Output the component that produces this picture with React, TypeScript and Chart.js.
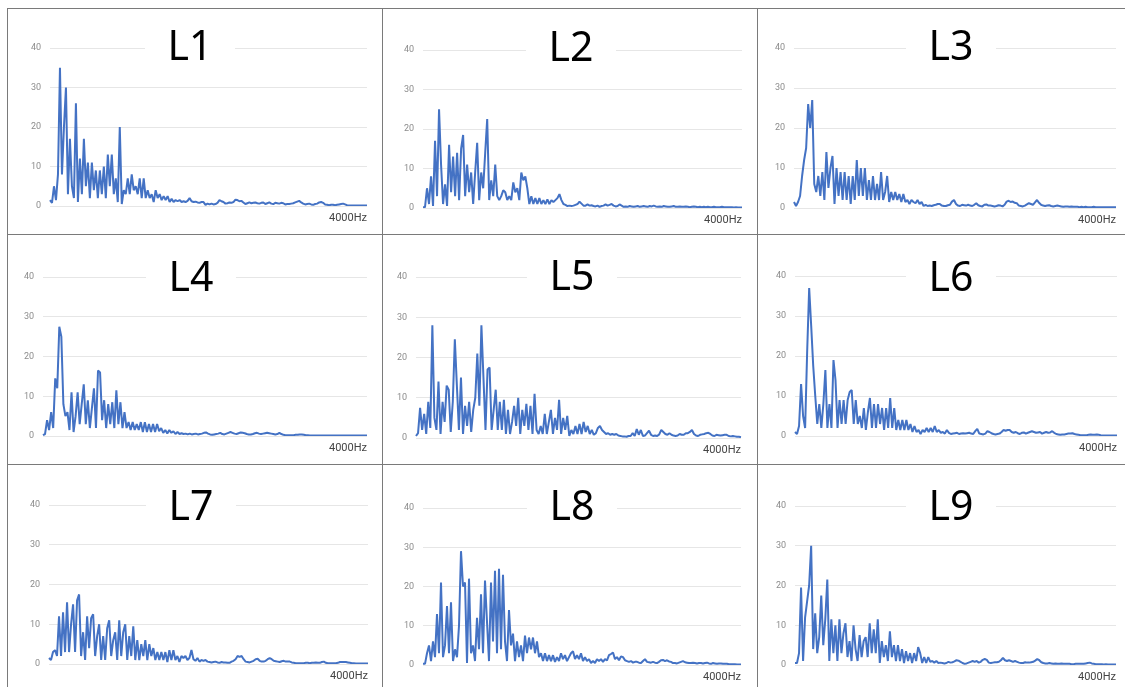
import React, { useEffect, useRef } from "react";
import { Chart, registerables } from "chart.js";

Chart.register(...registerables);

// ---------------- data ----------------
const panelNames = ["L1", "L2", "L3", "L4", "L5", "L6", "L7", "L8", "L9"];
const xAxisCaption = "4000Hz";
const yTickValues = [0, 10, 20, 30, 40];

const L1 = [
  1.5, 0.8, 5, 1.5, 8, 35, 8, 20, 30, 3,
  17, 5, 2, 26, 1, 12, 3, 17, 5, 11,
  2, 11, 4, 9, 2, 9, 3, 10, 2, 13,
  5, 13, 3, 7, 1, 20, 0.5, 4, 3, 7,
  3, 8, 4, 5, 3, 7, 2, 7, 2, 4,
  2, 3, 1, 4, 2, 3, 1.5, 2.5, 1.5, 2.5,
  1, 1.8, 1, 1.5, 1.2, 1.5, 1, 1.2, 1, 1.3,
  2, 1.2, 1, 1.1, 0.9, 0.8, 1, 1, 0.3, 0.6,
  0.4, 0.6, 0.4, 0.5, 0.8, 1.5, 1.2, 1, 0.6, 0.7,
  0.9, 0.8, 1, 1.6, 1.5, 1.2, 1.3, 0.9, 0.5, 0.7,
  0.9, 0.7, 0.8, 0.9, 0.7, 0.6, 0.8, 0.9, 0.5, 0.7,
  0.9, 0.6, 0.5, 0.8, 0.7, 0.6, 0.8, 0.7, 0.4, 0.5,
  0.5, 0.6, 0.7, 0.9, 1.1, 1.3, 0.9, 0.6, 0.4, 0.5,
  0.6, 0.4, 0.3, 0.5, 0.6, 0.9, 1, 0.8, 0.4, 0.3,
  0.2, 0.3, 0.3, 0.2, 0.3, 0.4, 0.5, 0.6, 0.4, 0.2,
  0.15, 0.15, 0.15, 0.15, 0.15, 0.15, 0.15, 0.15, 0.15, 0.15,
];

const L2 = [
  0.2, 0.2, 5, 1, 8, 0.5, 17, 3, 25, 11,
  1, 6, 0.5, 16, 4, 13, 3, 14, 2, 15,
  18.5, 3, 11, 4, 9, 1, 9, 16.5, 2, 9,
  5, 14, 22.5, 2, 7, 3, 11, 3, 2, 3,
  4.5, 4, 2, 3, 2, 6.5, 4, 5, 2, 9,
  7, 8, 5, 1, 3, 1, 2.5, 1, 2.5, 1,
  2, 1, 2.2, 1, 2, 1.5, 2, 2.5, 3.5, 2,
  1, 0.8, 0.5, 0.6, 0.5, 0.6, 0.8, 1, 1.6, 1.1,
  0.6, 0.6, 0.9, 0.6, 0.7, 0.5, 0.4, 0.6, 0.3, 0.5,
  0.6, 0.9, 0.6, 0.8, 1, 0.6, 0.4, 0.5, 0.9, 0.6,
  0.3, 0.4, 0.3, 0.5, 0.4, 0.3, 0.4, 0.5, 0.3, 0.4,
  0.5, 0.4, 0.3, 0.5, 0.4, 0.6, 0.4, 0.3, 0.4, 0.3,
  0.5, 0.4, 0.3, 0.3, 0.4, 0.5, 0.3, 0.3, 0.4, 0.3,
  0.3, 0.4, 0.3, 0.2, 0.3, 0.4, 0.3, 0.2, 0.3, 0.2,
  0.3, 0.2, 0.3, 0.2, 0.2, 0.3, 0.2, 0.2, 0.2, 0.3,
  0.2, 0.2, 0.2, 0.2, 0.2, 0.15, 0.2, 0.15, 0.15, 0.15,
];

const L3 = [
  1.5, 0.5, 1.5, 3, 8, 12, 15, 26, 20, 27,
  6, 4, 8, 3, 9, 2, 14, 5, 10, 13,
  1, 10, 3, 9, 2, 9, 2, 8, 1, 8,
  2, 12, 3, 10, 3, 10, 2, 7, 2, 8,
  2, 6, 2, 9, 2, 4, 8, 1.5, 4, 2,
  4, 2, 3.5, 1.5, 3.5, 1.5, 2, 1, 2, 1.5,
  1.2, 2, 1, 1.5, 0.5, 0.8, 0.5, 0.6, 0.5, 0.7,
  0.8, 1, 1, 0.6, 0.5, 0.5, 0.7, 0.8, 1.6, 2,
  1, 0.6, 0.5, 0.8, 0.7, 0.6, 0.8, 0.6, 0.5, 0.8,
  1.2, 0.7, 0.5, 0.4, 0.8, 0.9, 0.6, 0.6, 0.5, 0.4,
  0.5, 0.7, 0.6, 0.4, 0.8, 1.6, 1.8, 1.5, 1.6, 1.3,
  1.2, 0.6, 0.5, 0.4, 0.6, 0.9, 1.2, 1, 0.8, 1.4,
  2, 1.3, 0.8, 0.6, 0.5, 0.6, 0.7, 0.5, 0.4, 0.5,
  0.6, 0.5, 0.4, 0.3, 0.4, 0.4, 0.3, 0.4, 0.3, 0.3,
  0.3, 0.2, 0.3, 0.2, 0.3, 0.2, 0.2, 0.2, 0.3, 0.2,
  0.2, 0.2, 0.2, 0.2, 0.2, 0.2, 0.2, 0.2, 0.2, 0.2,
];

const L4 = [
  0.2, 0.5, 4, 1.5, 6, 2, 14.5, 12, 27.5, 25,
  8, 5, 6, 1.5, 11, 1, 5, 11, 3, 8,
  13, 3, 9, 2, 7, 12, 2, 16.5, 16, 4,
  9, 2, 8, 3, 8.5, 2, 11.5, 3, 8.5, 2,
  6, 2, 3.5, 1.5, 3.5, 1.5, 3, 1.5, 3.5, 1,
  3.5, 1, 3, 1, 3, 1, 3, 1.2, 2, 0.8,
  1.5, 0.6, 1.5, 0.8, 1.2, 0.5, 1, 0.5, 0.7, 0.5,
  0.6, 0.4, 0.6, 0.4, 0.5, 0.6, 0.4, 0.5, 0.6, 0.8,
  0.9, 0.6, 0.4, 0.3, 0.4, 0.5, 0.6, 0.8, 0.5, 0.4,
  0.6, 0.8, 1, 0.8, 0.6, 0.5, 0.7, 0.9, 0.8, 0.7,
  0.5, 0.4, 0.4, 0.5, 0.7, 0.8, 0.6, 0.5, 0.6, 0.7,
  0.8, 0.7, 0.6, 0.5, 0.4, 0.5, 0.8, 0.5, 0.3, 0.2,
  0.2, 0.2, 0.2, 0.2, 0.3, 0.3, 0.4, 0.4, 0.3, 0.2,
  0.2, 0.15, 0.15, 0.15, 0.15, 0.15, 0.15, 0.15, 0.15, 0.15,
  0.15, 0.15, 0.15, 0.15, 0.15, 0.15, 0.15, 0.15, 0.15, 0.15,
  0.15, 0.15, 0.15, 0.15, 0.15, 0.15, 0.15, 0.15, 0.15, 0.15,
];

const L5 = [
  0.5, 1.2, 7.5, 2, 6, 1, 9, 2.5, 28, 5,
  2, 14, 1, 9, 4, 13, 12, 1.5, 9, 24.5,
  13, 2, 15, 1, 8, 3, 9, 1.5, 7, 10,
  21, 8, 28, 15, 2, 17, 17.5, 2, 7, 12,
  2, 9, 2, 9.5, 1, 7, 1, 4, 8, 3,
  10, 1, 7, 3, 8.5, 2, 8, 1, 11, 2,
  1, 3, 1, 6, 1, 4, 7, 1, 5, 2,
  9.5, 1, 5, 2, 5.5, 0.5, 2, 1, 3, 1,
  3.5, 1, 4, 1.5, 3, 1, 2, 0.8, 1.2, 2.5,
  3, 2, 1.5, 1, 1.2, 0.8, 1, 0.8, 1, 0.6,
  0.5, 0.4, 0.4, 0.3, 0.5, 0.5, 1.2, 0.5, 2.2, 0.8,
  2, 0.5, 0.6, 1.2, 1.8, 0.8, 0.5, 0.6, 0.5, 0.9,
  2, 1.5, 1, 0.8, 1.2, 0.8, 0.6, 0.5, 0.6, 1,
  0.8, 0.8, 1.2, 1.2, 1.5, 2, 1, 0.6, 0.5, 0.8,
  0.9, 1, 1.2, 1.3, 1, 0.6, 0.5, 0.8, 0.7, 0.6,
  0.7, 0.8, 0.8, 0.5, 0.4, 0.5, 0.4, 0.3, 0.3, 0.2,
];

const L6 = [
  1, 0.5, 2.5, 13, 5, 2, 21, 37, 27.5, 17.5,
  10, 3, 8, 2, 8, 16.5, 2, 8, 2, 19,
  14, 2, 9, 3, 9, 3, 9, 11, 11.5, 3,
  9, 3, 5, 2, 7, 1.5, 6, 9.5, 2, 8,
  2, 8, 3, 7, 1.5, 7, 2, 9.5, 2, 7,
  1.5, 4, 1.5, 4, 1.5, 4, 1.5, 3, 1, 2.5,
  1, 1.5, 0.5, 1.5, 1, 2, 1, 2, 1, 2.5,
  1, 1.5, 0.8, 1, 0.6, 1.5, 0.8, 0.5, 0.6, 0.7,
  0.8, 0.5, 0.6, 0.7, 0.6, 0.7, 0.8, 0.6, 0.5, 1.2,
  1.8, 0.6, 0.5, 0.4, 0.6, 1.2, 1, 0.7, 0.5, 0.4,
  0.5, 0.6, 1, 1.5, 1.3, 1.5, 1.5, 1, 0.8, 1,
  0.7, 0.5, 0.8, 0.9, 0.6, 0.8, 1, 1.2, 1, 0.8,
  0.9, 1, 0.6, 0.8, 1, 0.8, 0.9, 1.2, 0.8, 0.5,
  0.4, 0.3, 0.4, 0.4, 0.5, 0.6, 0.6, 0.7, 0.5, 0.4,
  0.3, 0.2, 0.2, 0.2, 0.2, 0.3, 0.4, 0.3, 0.3, 0.4,
  0.3, 0.2, 0.15, 0.15, 0.15, 0.15, 0.15, 0.15, 0.15, 0.15,
];

const L7 = [
  1.5, 1, 3, 3.5, 2, 12, 2, 13, 3, 15.5,
  3, 10, 15, 3, 16, 17.5, 2, 8, 1, 12,
  4, 11.5, 12.5, 2, 7, 10, 1, 7, 1, 9,
  11, 2, 6, 8, 1, 11, 2, 8, 10, 1,
  7, 2, 9.5, 1, 6, 1, 5, 2, 6, 1,
  5, 2, 4, 1, 3, 1, 3, 1, 3, 0.5,
  3.5, 1, 3.5, 1, 2, 0.5, 2, 1.5, 2, 1,
  1.5, 3.5, 1.2, 0.8, 1.5, 0.6, 1, 0.8, 1, 0.6,
  0.5, 0.4, 0.5, 0.6, 0.4, 0.3, 0.5, 0.4, 0.4, 0.3,
  0.3, 0.6, 0.8, 1.2, 2, 1.8, 2, 1.2, 0.6, 0.5,
  0.4, 0.6, 0.8, 1.2, 1.3, 0.8, 0.6, 0.6, 0.8, 1.2,
  1.5, 1.2, 0.8, 0.7, 0.6, 0.5, 0.7, 0.8, 0.6, 0.6,
  0.6, 0.4, 0.3, 0.2, 0.2, 0.2, 0.2, 0.2, 0.3, 0.3,
  0.2, 0.3, 0.3, 0.4, 0.3, 0.3, 0.5, 0.6, 0.3, 0.2,
  0.2, 0.2, 0.2, 0.2, 0.3, 0.5, 0.5, 0.5, 0.5, 0.4,
  0.3, 0.2, 0.2, 0.15, 0.15, 0.15, 0.15, 0.15, 0.15, 0.15,
];

const L8 = [
  0.3, 0.3, 3, 5, 1, 6, 2, 13, 3, 21,
  2, 5, 15, 3, 16, 1, 4, 2, 10, 29,
  20, 21, 0.5, 22, 3, 5, 1, 12, 4, 18,
  3, 21.5, 11, 1, 21, 6, 24, 3, 24.5, 4,
  23, 6, 1, 14, 5, 8, 1, 6, 2, 5,
  1, 7.5, 3, 7, 4, 7, 3, 6, 2, 3,
  1, 3, 1, 2.5, 1, 2.5, 0.8, 2, 1, 3,
  1.5, 2.5, 1, 2, 3, 3.5, 1.5, 2.5, 1.5, 3,
  1, 2, 1, 1.5, 0.5, 1, 0.5, 1.5, 1, 1.5,
  0.8, 1.5, 1.2, 2.5, 2.8, 3.2, 1.5, 2, 1.2, 2.2,
  2, 1.2, 1, 0.8, 1, 0.6, 0.8, 0.8, 0.6, 0.5,
  1, 1.5, 0.8, 0.7, 0.6, 0.8, 0.6, 0.5, 0.8, 1.2,
  1.3, 1, 1.2, 0.9, 0.8, 0.5, 0.5, 0.4, 0.6, 0.8,
  1, 0.7, 0.6, 0.5, 0.5, 0.6, 0.5, 0.4, 0.5, 0.5,
  0.4, 0.5, 0.6, 0.4, 0.3, 0.5, 0.4, 0.3, 0.4, 0.4,
  0.3, 0.3, 0.3, 0.2, 0.2, 0.2, 0.2, 0.15, 0.15, 0.15,
];

const L9 = [
  0.5, 0.5, 3, 19.5, 1, 12, 16, 20, 30, 4,
  13, 3, 7, 17.5, 5, 11.5, 21.5, 1, 11.5, 3,
  10, 1, 11.5, 3, 8, 10.5, 2, 6, 1, 10,
  4, 1, 7.5, 2, 6, 7, 2, 10.5, 3, 9,
  3, 11.5, 0.5, 6, 2, 5, 1, 8.5, 2, 5,
  1, 5, 1, 4, 0.5, 3.5, 1, 3, 0.5, 3,
  1, 4.5, 3, 0.5, 2, 0.5, 2, 0.8, 1, 0.6,
  1, 0.5, 0.6, 0.5, 0.4, 0.5, 0.8, 0.6, 0.7, 0.9,
  1.2, 1.1, 0.8, 0.5, 0.3, 0.4, 0.6, 0.8, 1, 0.8,
  1, 0.6, 0.8, 1.3, 1.5, 1.3, 0.6, 0.5, 0.6, 0.7,
  0.7, 0.8, 1.2, 1.8, 1.2, 1, 1.2, 1, 0.8, 1,
  0.8, 0.6, 0.5, 0.5, 0.7, 0.6, 0.6, 0.7, 0.8, 1.1,
  1.5, 1.2, 0.7, 0.5, 0.4, 0.4, 0.5, 0.4, 0.3, 0.4,
  0.3, 0.3, 0.4, 0.3, 0.3, 0.3, 0.3, 0.2, 0.2, 0.3,
  0.3, 0.3, 0.3, 0.3, 0.4, 0.5, 0.6, 0.4, 0.3, 0.2,
  0.2, 0.2, 0.2, 0.15, 0.2, 0.15, 0.15, 0.15, 0.15, 0.15,
];

const panelSeries = [L1, L2, L3, L4, L5, L6, L7, L8, L9];

// ---------------- layout (page pixels) ----------------
const colEdges = [7, 382, 757, 1125];
const rowEdges = [8, 234, 464, 687];
// plot areas: [left, top(=40 line), right, bottom(=0 line)]
const plotAreas = [
  [50, 48, 367, 206],
  [423, 50, 742, 208],
  [794, 48, 1116, 208],
  [43, 277, 367, 436],
  [416, 277, 741, 438],
  [795, 276, 1117, 436],
  [49, 505, 368, 664],
  [423, 508, 741, 665],
  [795, 506, 1116, 665],
];
// title centre x, baseline y
const titleSpots = [
  [190, 60], [571, 61], [951, 60],
  [191, 291], [572, 290], [951, 291],
  [191, 520], [572, 520], [951, 520],
];
const Y_AXIS_W = 30;
const X_AXIS_H = 19;
const LINE_COLOR = "#4472C4";

const titlePlugin = {
  id: "panelTitle",
  beforeDatasetsDraw(chart: any, _args: any, opts: any) {
    const { ctx } = chart;
    const yTop = chart.scales.y.getPixelForValue(40);
    ctx.save();
    ctx.fillStyle = "#ffffff";
    ctx.fillRect(opts.cx - 45, yTop - 3, 90, 6);
    ctx.font = '41px "Noto Sans", "DejaVu Sans", sans-serif';
    ctx.fillStyle = "#000000";
    ctx.textAlign = "center";
    ctx.textBaseline = "alphabetic";
    ctx.fillText(opts.text, opts.cx, opts.baseline);
    ctx.restore();
  },
};

function Panel({ idx }: { idx: number }) {
  const ref = useRef<HTMLCanvasElement | null>(null);
  const col = idx % 3;
  const row = Math.floor(idx / 3);
  const cl = colEdges[col] + 1;
  const ct = rowEdges[row] + 1;
  const cw = colEdges[col + 1] - colEdges[col] - 1;
  const ch = rowEdges[row + 1] - rowEdges[row] - 1;

  useEffect(() => {
    if (!ref.current) return;
    const values = panelSeries[idx];
    const [al, at, ar, ab] = plotAreas[idx];
    const [tx, ty] = titleSpots[idx];
    const chart = new Chart(ref.current, {
      type: "line",
      data: {
        labels: values.map((_, i) => i),
        datasets: [
          {
            data: values,
            borderColor: LINE_COLOR,
            backgroundColor: LINE_COLOR,
            borderWidth: 2,
            borderJoinStyle: "bevel",
            pointRadius: 0,
            tension: 0,
            fill: false,
          },
        ],
      },
      options: {
        animation: false,
        responsive: false,
        maintainAspectRatio: false,
        devicePixelRatio: 1,
        events: [],
        layout: {
          padding: {
            left: al - cl - Y_AXIS_W,
            top: at - ct,
            right: cl + cw - ar,
            bottom: ct + ch - ab - X_AXIS_H,
          },
        },
        plugins: {
          legend: { display: false },
          tooltip: { enabled: false },
          title: { display: false },
          panelTitle: { text: panelNames[idx], cx: tx - cl, baseline: ty - ct },
        } as any,
        scales: {
          x: {
            type: "category",
            offset: false,
            grid: { display: false },
            border: { display: false },
            ticks: { display: false },
            title: {
              display: true,
              text: xAxisCaption,
              align: "end",
              color: "#444444",
              font: { family: "Roboto", size: 11 },
              padding: 0,
            },
            afterFit: (s: any) => {
              s.height = X_AXIS_H;
            },
          },
          y: {
            min: yTickValues[0],
            max: yTickValues[yTickValues.length - 1],
            afterBuildTicks: (s: any) => {
              s.ticks = yTickValues.map((v) => ({ value: v }));
            },
            ticks: {
              padding: 9,
              color: "#8c8c8c",
              font: { family: "Roboto", size: 9 },
            },
            grid: { color: "#e6e6e6", drawTicks: false, lineWidth: 1 },
            border: { display: false },
            afterFit: (s: any) => {
              s.width = Y_AXIS_W;
            },
          },
        },
      } as any,
      plugins: [titlePlugin as any],
    });
    return () => chart.destroy();
  }, [idx]);

  return (
    <canvas
      ref={ref}
      width={cw}
      height={ch}
      style={{ position: "absolute", left: cl, top: ct, width: cw, height: ch }}
    />
  );
}

export default function App() {
  const lineColor = "#7a7a7a";
  return (
    <div
      style={{
        position: "absolute",
        left: 0,
        top: 0,
        width: 1125,
        height: 687,
        background: "#ffffff",
        overflow: "hidden",
      }}
    >
      {panelNames.map((_, i) => (
        <Panel key={i} idx={i} />
      ))}
      {rowEdges.slice(0, 3).map((y, i) => (
        <div
          key={"h" + i}
          style={{ position: "absolute", left: colEdges[0], top: y, width: 1125 - colEdges[0], height: 1, background: lineColor }}
        />
      ))}
      {colEdges.slice(0, 3).map((x, i) => (
        <div
          key={"v" + i}
          style={{ position: "absolute", left: x, top: rowEdges[0], width: 1, height: 687 - rowEdges[0], background: lineColor }}
        />
      ))}
    </div>
  );
}
